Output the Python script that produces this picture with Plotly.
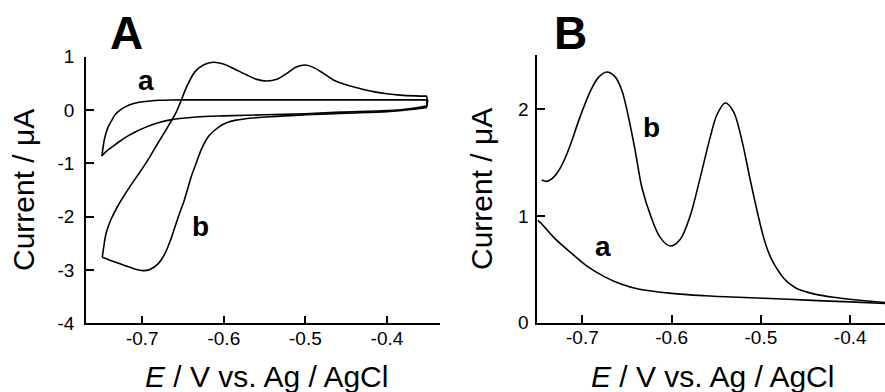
import plotly.graph_objects as go

# ---------------- Panel A (cyclic voltammograms) ----------------
# curve a: upper branch (right -> left), lower branch (left -> right)
A_a_up_x = [-0.350, -0.40, -0.45, -0.50, -0.55, -0.60, -0.646, -0.665, -0.679, -0.690, -0.6996, -0.708, -0.716, -0.722, -0.728, -0.733, -0.736, -0.7395, -0.7425, -0.7466, -0.7495]
A_a_up_y = [0.19, 0.19, 0.19, 0.19, 0.19, 0.19, 0.19, 0.188, 0.182, 0.17, 0.155, 0.13, 0.094, 0.05, -0.01, -0.08, -0.156, -0.25, -0.34, -0.5625, -0.8625]
A_a_lo_x = [-0.7495, -0.7445, -0.736, -0.728, -0.718, -0.708, -0.697, -0.687, -0.677, -0.667, -0.654, -0.634, -0.60, -0.55, -0.50, -0.457, -0.40, -0.37, -0.351]
A_a_lo_y = [-0.8625, -0.78, -0.68, -0.59, -0.49, -0.406, -0.33, -0.27, -0.225, -0.19, -0.16, -0.13, -0.11, -0.09, -0.07, -0.04, -0.01, 0.03, 0.08]
A_a_vx = [-0.351, -0.350]
A_a_vy = [0.08, 0.19]

# curve b: anodic branch (right -> left), cathodic branch (left -> right)
A_b_an_x = [-0.351, -0.365, -0.384, -0.400, -0.415, -0.430, -0.445, -0.4574, -0.4656, -0.4779, -0.4902, -0.5004, -0.5106, -0.5228, -0.5351, -0.5474, -0.5596, -0.5719, -0.5883, -0.6006, -0.6129, -0.6251, -0.6353, -0.6455, -0.6537, -0.659, -0.665, -0.672, -0.680, -0.690, -0.700, -0.710, -0.720, -0.730, -0.738, -0.7438, -0.7466, -0.749]
A_b_an_y = [0.26, 0.265, 0.28, 0.305, 0.34, 0.39, 0.45, 0.51, 0.5625, 0.688, 0.80, 0.845, 0.81, 0.688, 0.575, 0.544, 0.575, 0.657, 0.78, 0.863, 0.895, 0.845, 0.72, 0.44, 0.125, -0.06, -0.22, -0.40, -0.60, -0.86, -1.10, -1.32, -1.55, -1.80, -2.04, -2.28, -2.50, -2.76]
A_b_ca_x = [-0.749, -0.7335, -0.717, -0.7007, -0.6906, -0.6804, -0.6721, -0.664, -0.6558, -0.6485, -0.644, -0.640, -0.634, -0.627, -0.618, -0.6055, -0.595, -0.585, -0.565, -0.548, -0.525, -0.50, -0.45, -0.40, -0.37, -0.351]
A_b_ca_y = [-2.76, -2.85, -2.94, -3.01, -2.99, -2.88, -2.69, -2.38, -2.00, -1.69, -1.46, -1.25, -1.0, -0.72, -0.48, -0.31, -0.23, -0.19, -0.15, -0.13, -0.11, -0.09, -0.06, -0.03, 0.01, 0.05]
A_b_vx = [-0.351, -0.351]
A_b_vy = [0.05, 0.26]

# ---------------- Panel B (differential pulse voltammograms) ----------------
B_b_x = [-0.7455, -0.740, -0.734, -0.727, -0.720, -0.7138, -0.7026, -0.6914, -0.682, -0.6727, -0.6633, -0.6558, -0.6484, -0.641, -0.6334, -0.623, -0.6129, -0.6017, -0.5905, -0.5793, -0.568, -0.5568, -0.5493, -0.540, -0.5307, -0.5213, -0.512, -0.5027, -0.497, -0.4915, -0.486, -0.480, -0.4747, -0.467, -0.460, -0.441, -0.4186, -0.3924, -0.361]
B_b_y = [1.337, 1.325, 1.35, 1.42, 1.53, 1.66, 1.93, 2.165, 2.30, 2.35, 2.305, 2.18, 1.93, 1.62, 1.27, 0.99, 0.80, 0.719, 0.78, 1.00, 1.36, 1.74, 1.95, 2.06, 1.98, 1.71, 1.34, 0.99, 0.80, 0.66, 0.56, 0.48, 0.42, 0.36, 0.32, 0.27, 0.238, 0.213, 0.19]
B_a_x = [-0.750, -0.746, -0.731, -0.712, -0.694, -0.675, -0.656, -0.6375, -0.600, -0.563, -0.5255, -0.469, -0.430, -0.400, -0.361]
B_a_y = [0.96, 0.93, 0.79, 0.65, 0.525, 0.43, 0.36, 0.316, 0.275, 0.253, 0.238, 0.22, 0.205, 0.195, 0.18]

A_xticks = [-0.7, -0.6, -0.5, -0.4]
A_xticktext = ["-0.7", "-0.6", "-0.5", "-0.4"]
A_yticks = [-4, -3, -2, -1, 0, 1]
A_yticktext = ["-4", "-3", "-2", "-1", "0", "1"]
B_xticks = [-0.7, -0.6, -0.5, -0.4]
B_xticktext = ["-0.7", "-0.6", "-0.5", "-0.4"]
B_yticks = [0, 1, 2]
B_yticktext = ["0", "1", "2"]

FONT = "Liberation Sans, Arial, sans-serif"

fig = go.Figure()


def add(x, y, xa, ya, shape="spline"):
    fig.add_trace(go.Scatter(x=x, y=y, mode="lines", xaxis=xa, yaxis=ya,
                             line=dict(color="black", width=1.6, shape=shape, smoothing=0.9),
                             showlegend=False, hoverinfo="skip"))


add(A_a_up_x, A_a_up_y, "x", "y")
add(A_a_lo_x, A_a_lo_y, "x", "y")
add(A_a_vx, A_a_vy, "x", "y", "linear")
add(A_b_an_x, A_b_an_y, "x", "y")
add(A_b_ca_x, A_b_ca_y, "x", "y")
add(A_b_vx, A_b_vy, "x", "y", "linear")
add(B_b_x, B_b_y, "x2", "y2")
add(B_a_x, B_a_y, "x2", "y2")

W, H = 885, 392

axis_common = dict(showgrid=False, zeroline=False, showline=True, linecolor="black",
                   linewidth=1.6, ticks="inside", ticklen=8, tickwidth=1.6, automargin=False,
                   tickcolor="black", tickfont=dict(family=FONT, size=19, color="black"))

fig.update_layout(
    template="none",
    width=W, height=H,
    margin=dict(l=0, r=0, t=0, b=0, pad=0),
    paper_bgcolor="white", plot_bgcolor="white",
    xaxis=dict(domain=[86 / W, 440 / W], range=[-0.769, -0.335], tickvals=A_xticks,
               ticktext=A_xticktext, anchor="y", ticklabelstandoff=-3, **axis_common),
    yaxis=dict(domain=[1 - 323.3 / H, 1 - 56.7 / H], range=[-4, 1], tickvals=A_yticks,
               ticktext=A_yticktext, anchor="x", ticklabelstandoff=6, **axis_common),
    xaxis2=dict(domain=[537.3 / W, 1.0], range=[-0.7505, -0.361], tickvals=B_xticks,
                ticktext=B_xticktext, anchor="y2", ticklabelstandoff=-3, **axis_common),
    yaxis2=dict(domain=[1 - 322.7 / H, 1 - 55 / H], range=[0, 2.51], tickvals=B_yticks,
                ticktext=B_yticktext, anchor="x2", ticklabelstandoff=3, **axis_common),
)

title_font = dict(family=FONT, size=30, color="black")
ann = [
    dict(text="Current / μA", x=24 / W, y=1 - 190 / H, textangle=-90, font=title_font),
    dict(text="<i>E</i> / V vs. Ag / AgCl", x=266 / W, y=1 - 376 / H, font=title_font),
    dict(text="Current / μA", x=481 / W, y=1 - 189 / H, textangle=-90, font=title_font),
    dict(text="<i>E</i> / V vs. Ag / AgCl", x=712 / W, y=1 - 376 / H, font=title_font),
    dict(text="<b>A</b>", x=126 / W, y=1 - 33 / H, font=dict(family=FONT, size=46, color="black")),
    dict(text="<b>B</b>", x=570 / W, y=1 - 33 / H, font=dict(family=FONT, size=46, color="black")),
    dict(text="<b>a</b>", x=146 / W, y=1 - 81 / H, font=dict(family=FONT, size=28, color="black")),
    dict(text="<b>b</b>", x=200 / W, y=1 - 226 / H, font=dict(family=FONT, size=28, color="black")),
    dict(text="<b>b</b>", x=651 / W, y=1 - 128 / H, font=dict(family=FONT, size=28, color="black")),
    dict(text="<b>a</b>", x=603 / W, y=1 - 247 / H, font=dict(family=FONT, size=28, color="black")),
]
for a in ann:
    a.update(xref="paper", yref="paper", showarrow=False, xanchor="center", yanchor="middle")
    fig.add_annotation(**a)

fig.write_html("out.html", config={"displayModeBar": False},
               post_script="document.body.style.margin='0';document.body.style.padding='0';")
